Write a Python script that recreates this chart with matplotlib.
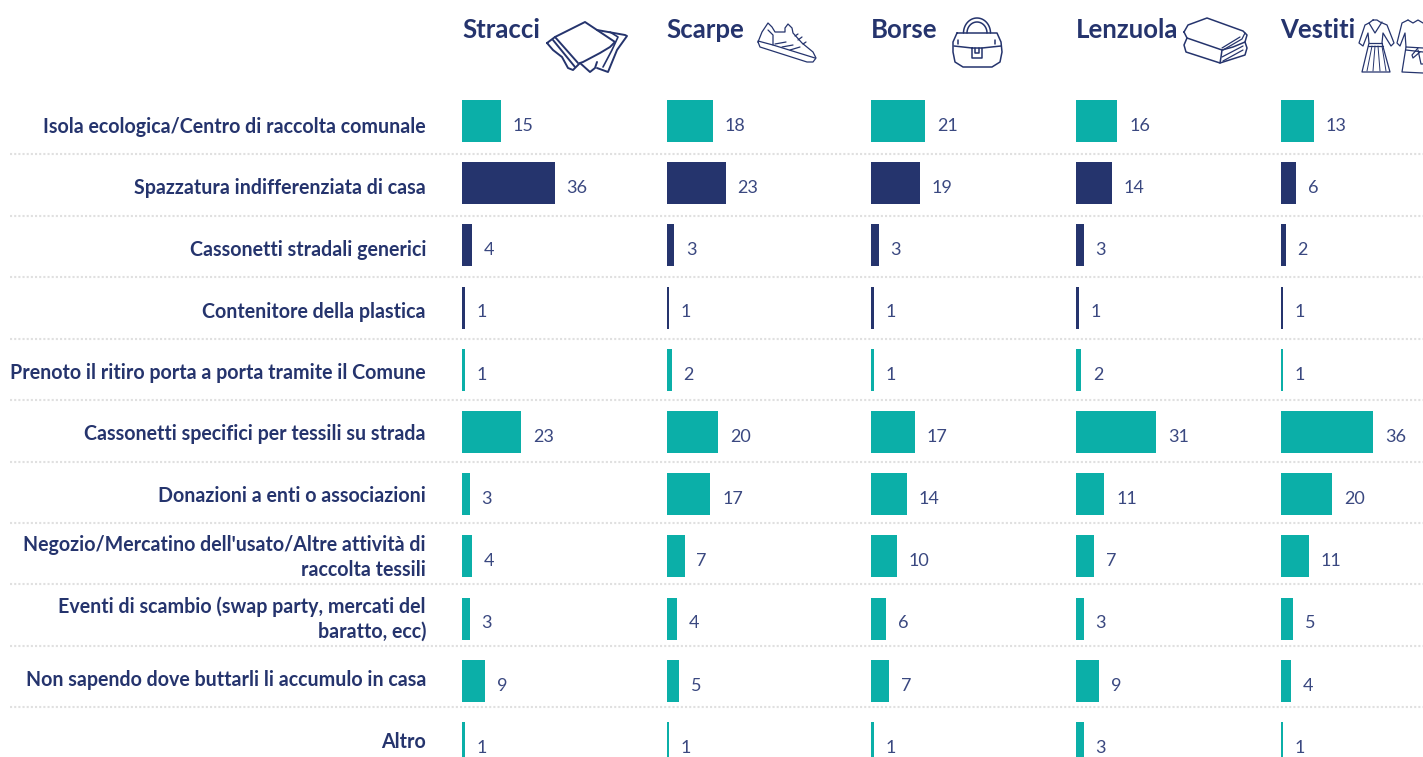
import matplotlib
matplotlib.use('Agg')
import matplotlib.pyplot as plt
import numpy as np

W, H = 1423, 757
NAVY = '#25346d'
TEAL = '#0bafa8'

row_labels = [
    'Isola ecologica/Centro di raccolta comunale',
    'Spazzatura indifferenziata di casa',
    'Cassonetti stradali generici',
    'Contenitore della plastica',
    'Prenoto il ritiro porta a porta tramite il Comune',
    'Cassonetti specifici per tessili su strada',
    'Donazioni a enti o associazioni',
    "Negozio/Mercatino dell'usato/Altre attività di\nraccolta tessili",
    'Eventi di scambio (swap party, mercati del\nbaratto, ecc)',
    'Non sapendo dove buttarli li accumulo in casa',
    'Altro',
]
columns = ['Stracci', 'Scarpe', 'Borse', 'Lenzuola', 'Vestiti']

stracci = [15, 36, 4, 1, 1, 23, 3, 4, 3, 9, 1]
scarpe = [18, 23, 3, 1, 2, 20, 17, 7, 4, 5, 1]
borse = [21, 19, 3, 1, 1, 17, 14, 10, 6, 7, 1]
lenzuola = [16, 14, 3, 1, 2, 31, 11, 7, 3, 9, 3]
vestiti = [13, 6, 2, 1, 1, 36, 20, 11, 5, 4, 1]
values = [stracci, scarpe, borse, lenzuola, vestiti]

dark_rows = [1, 2, 3]

col_x = [462, 666.5, 871, 1076, 1280.5]  # left edge of each column, px
px_per_unit = 2.58
row0 = 121
pitch = 62.2

fig = plt.figure(figsize=(W / 100, H / 100), dpi=100)

# background layer in pixels: separators and icons
bg = fig.add_axes([0, 0, 1, 1])
bg.set_xlim(0, W)
bg.set_ylim(H, 0)
bg.axis('off')

for i in range(10):
    y = 154.3 + 61.45 * i
    bg.plot([10, W], [y, y], color='#e0e0e0', lw=1.5, dashes=(1, 1))


def icon(*path, lw=1.1):
    xs, ys = zip(*path)
    bg.plot(xs, ys, color=NAVY, lw=lw, solid_joinstyle='round', solid_capstyle='round')


# Stracci
icon((547, 43), (555, 37), (585, 22), (615, 42), (610, 47), (600, 53), (583, 62), (580, 63), (573, 70),
     (568, 68), (562, 57), (553, 50), (547, 43), lw=1.4)
icon((555, 37), (578, 63), lw=1.4)
icon((553, 40), (575, 67), lw=1.4)
icon((597, 30), (625, 35), (627, 36), (617, 50), (608, 72), (597, 68), lw=1.4)
icon((610, 32), (618, 37), (612, 50), (603, 67), lw=1.2)
icon((580, 63), (590, 72), (595, 68), (597, 62), lw=1.4)
# Scarpe
icon((758, 42), (762, 32), (768, 23), (772, 27), (775, 32), (785, 32), (785, 28), (788, 24), (792, 28), (793, 33),
     (802, 43), (813, 52), (816, 58), (813, 62), (807, 62), (760, 47), (758, 42), lw=0.9)
icon((758, 41), (773, 45), (815, 58), lw=0.9)
icon((773, 45), (773, 35), (768, 30), lw=0.9)
icon((775, 44), (786, 42), lw=0.9)
icon((782, 47), (793, 45), lw=0.9)
icon((790, 50), (800, 47), lw=0.9)
icon((795, 36), (798, 34), lw=0.9)
icon((798, 40), (802, 37), lw=0.9)
icon((803, 44), (806, 42), lw=0.9)
# Borse
t = np.linspace(0, np.pi, 30)
icon(*zip(977 + 13.5 * np.cos(t), 33 - 15 * np.sin(t)))
icon(*zip(977 + 10 * np.cos(t), 33 - 11 * np.sin(t)))
icon((957, 33), (997, 33), (1001, 42), (1002, 52), (1000, 62), (992, 67), (963, 67), (955, 62), (953, 52), (953, 42),
     (957, 33))
icon((954, 46), (972, 48))
icon((982, 48), (1001, 46))
icon((972, 48), (982, 48), (982, 58), (972, 58), (972, 48))
icon((975, 48), (975, 53), (979, 53), (979, 48))
icon((958, 40), (958, 44))
icon((995, 40), (995, 44))
# Lenzuola
icon((1184, 32), (1188, 25), (1207, 18), (1243, 31), (1247, 35), (1245, 42), (1233, 47), (1222, 50), (1187, 38),
     (1184, 32))
icon((1187, 38), (1184, 45), (1186, 52), (1220, 63), (1245, 55), (1247, 48), (1245, 42))
icon((1222, 50), (1221, 57), (1220, 63))
icon((1223, 50), (1242, 39), (1245, 33), lw=0.9)
icon((1222, 48), (1240, 37), lw=0.9)
icon((1223, 61), (1243, 50), lw=0.9)
icon((1222, 57), (1243, 46), lw=0.9)
# Vestiti
icon((1373, 20), (1369, 23), (1365, 25), (1359, 43), (1363, 46), (1368, 33), (1369, 43), (1362, 72), (1390, 72),
     (1382, 43), (1383, 33), (1391, 46), (1394, 43), (1387, 25), (1380, 22), (1377, 20), (1373, 20), lw=0.9)
icon((1369, 43), (1382, 43), lw=0.9)
icon((1368, 46), (1383, 46), lw=0.9)
icon((1369, 23), (1375, 33), (1382, 22), lw=0.9)
icon((1372, 46), (1367, 71), lw=0.7)
icon((1375, 46), (1373, 71), lw=0.7)
icon((1378, 46), (1380, 71), lw=0.7)
icon((1382, 46), (1386, 71), lw=0.7)
icon((1408, 20), (1402, 23), (1397, 43), (1400, 46), (1405, 33), (1406, 47), (1402, 72), (1423, 73), lw=0.9)
icon((1408, 20), (1413, 23), (1418, 20), (1423, 23), lw=0.9)
icon((1406, 47), (1423, 48), lw=0.9)
icon((1406, 50), (1423, 52), lw=0.9)
icon((1418, 48), (1412, 55), (1413, 58), (1420, 52), lw=0.9)
icon((1418, 50), (1421, 64), (1423, 64), lw=0.9)

# row labels
for i, lab in enumerate(row_labels):
    bg.text(426, 127 + 61.5 * i, lab, ha='right', va='center', color=NAVY,
            family='Lato', weight='bold', fontsize=14.1, linespacing=1.26)

# one axes per column, x in value units
top = -row0 / pitch
bottom = (H - row0) / pitch
for x0, name, vals in zip(col_x, columns, values):
    width_px = 190
    ax = fig.add_axes([x0 / W, 0, width_px / W, 1])
    ax.patch.set_alpha(0)
    ax.set_xlim(0, width_px / px_per_unit)
    ax.set_ylim(bottom, top)
    ax.axis('off')
    ypos = np.arange(len(vals))
    colors = [NAVY if i in dark_rows else TEAL for i in ypos]
    ax.barh(ypos, vals, height=42 / pitch, color=colors)
    for y, v in zip(ypos, vals):
        ax.annotate(str(v), (v, y), xytext=(8.5, -3.5), textcoords='offset points',
                    ha='left', va='center', color='#3a4880', family='Lato', fontsize=13, weight='normal',
                    annotation_clip=False)
    bg.text(x0, 30, name, ha='left', va='center', color=NAVY, family='Lato',
            weight='bold', fontsize=18.5)

fig.savefig('out.png', dpi=100)
